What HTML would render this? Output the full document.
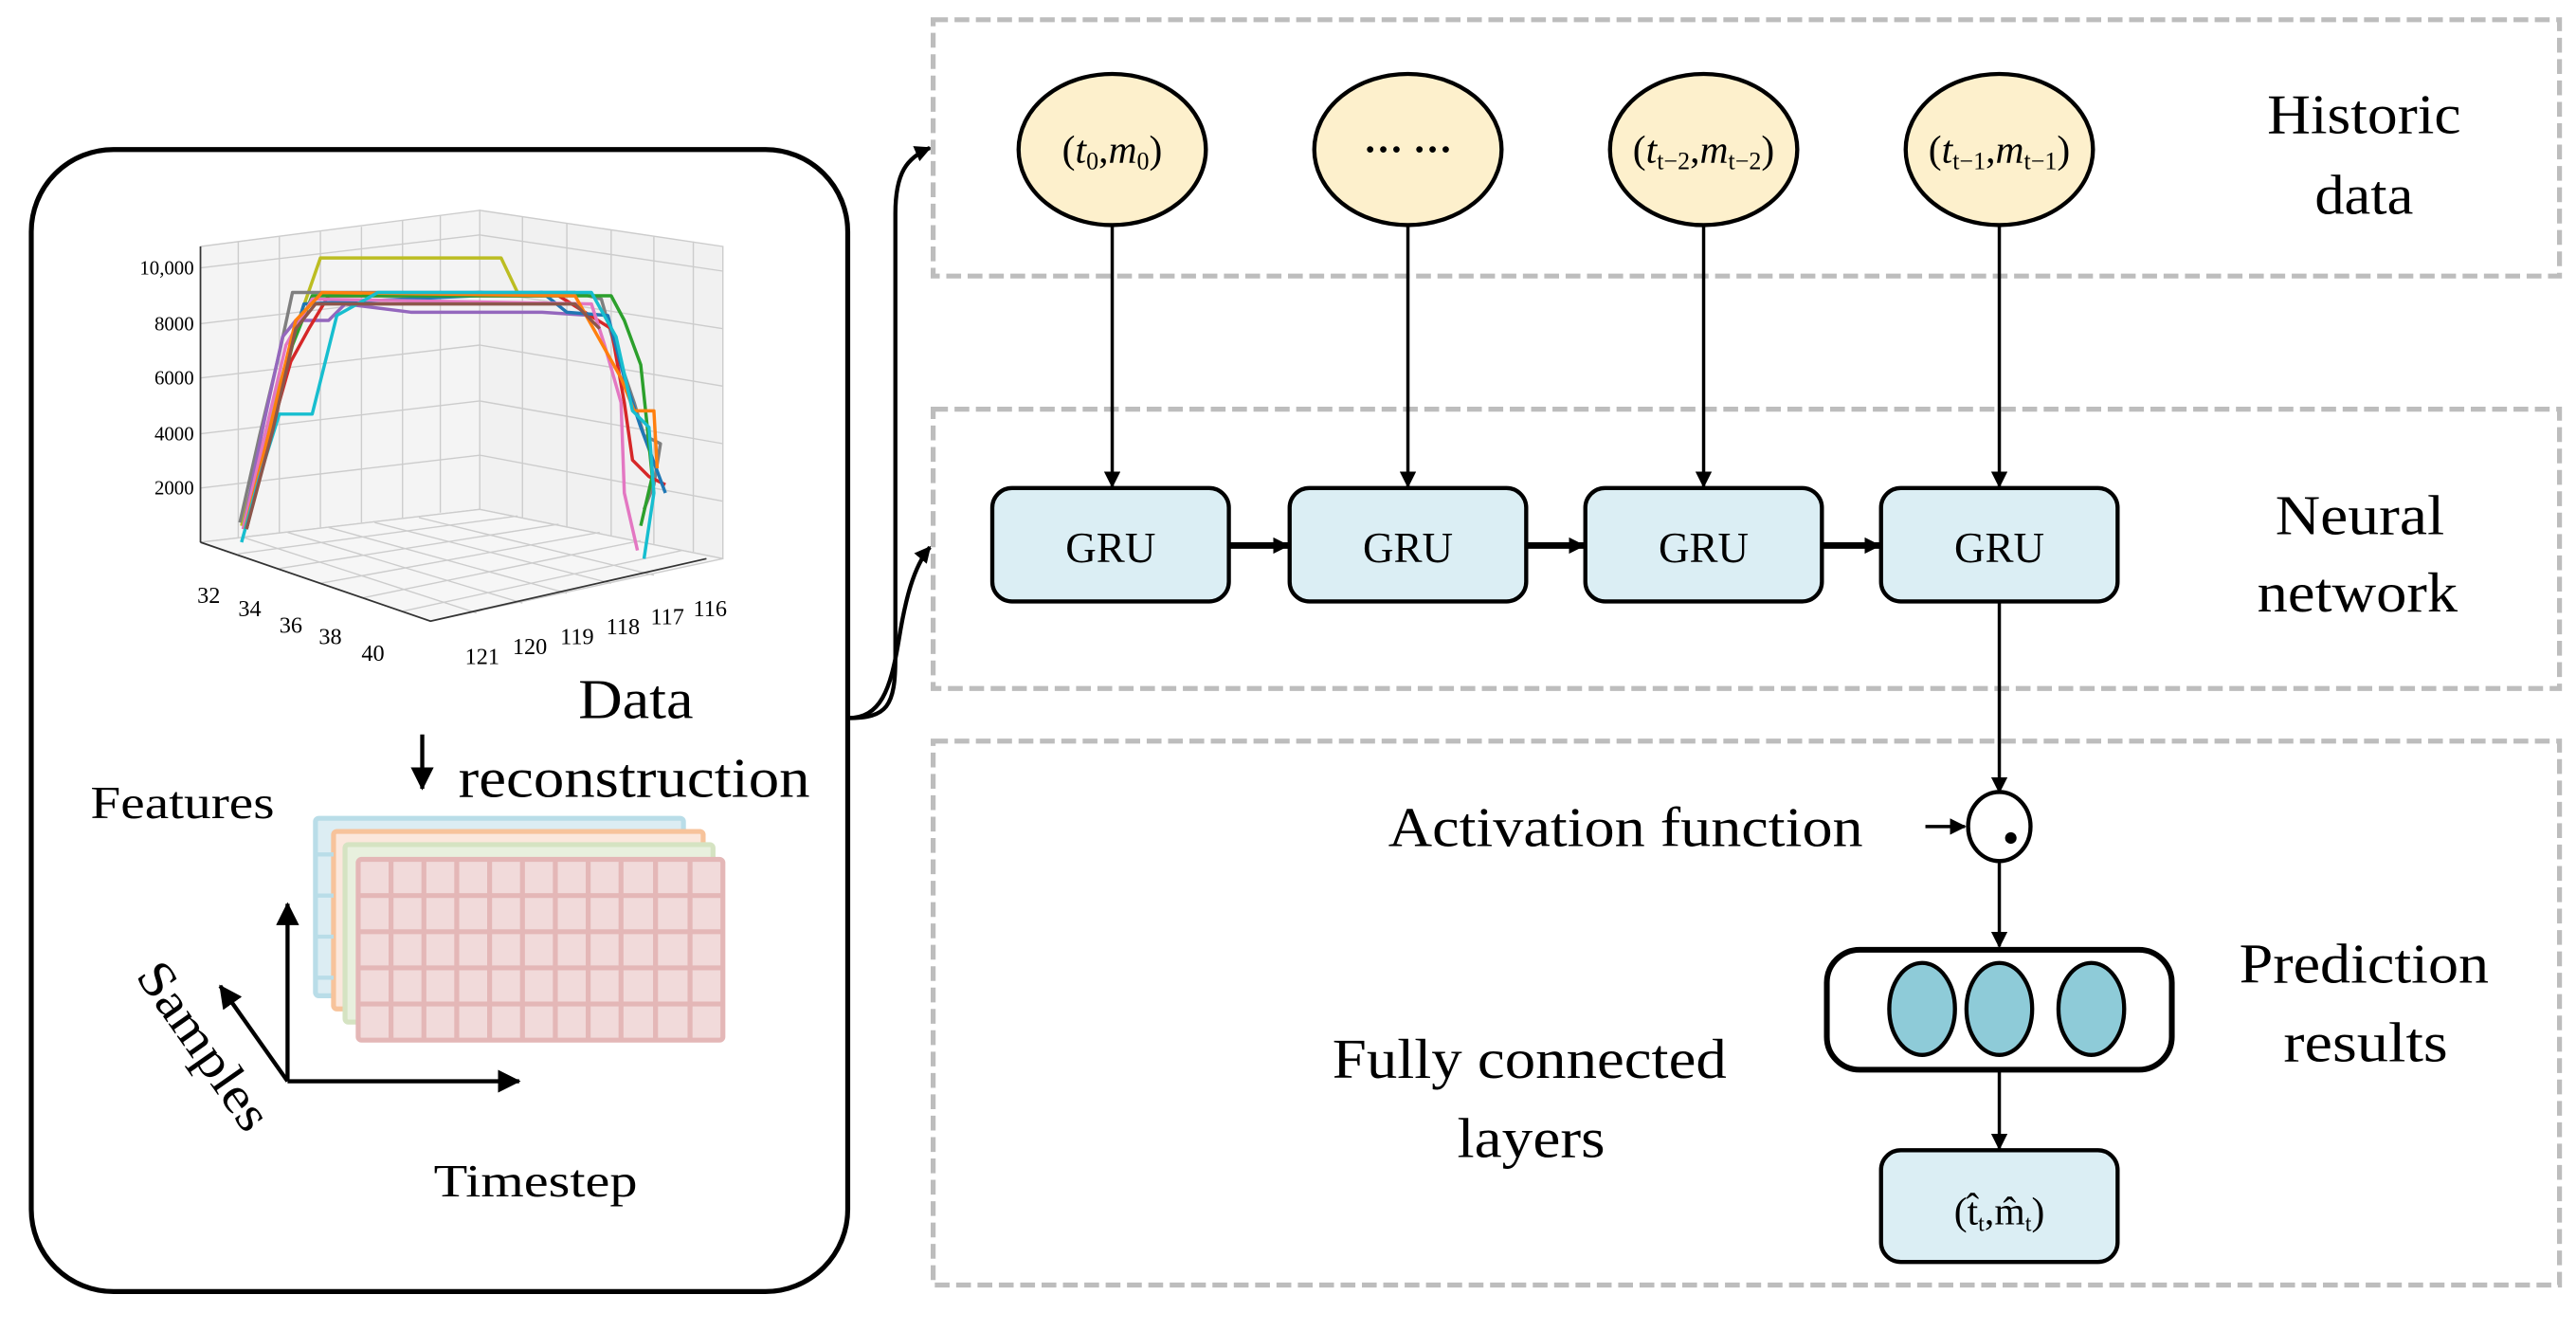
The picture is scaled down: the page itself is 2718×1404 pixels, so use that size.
<!DOCTYPE html>
<html><head><meta charset="utf-8"><style>
html,body{margin:0;padding:0;background:#fff;}
svg{display:block;}
text{font-family:"Liberation Serif",serif;fill:#000;}
</style></head><body>
<svg width="2718" height="1404" viewBox="0 0 1568 810" xmlns="http://www.w3.org/2000/svg">
<defs>
<marker id="ah" markerWidth="10" markerHeight="10" refX="9" refY="5" orient="auto" markerUnits="userSpaceOnUse"><path d="M0,0 L10,5 L0,10 z" fill="#000"/></marker>
<marker id="ah2" markerWidth="14" markerHeight="14" refX="13" refY="7" orient="auto" markerUnits="userSpaceOnUse"><path d="M0,0 L14,7 L0,14 z" fill="#000"/></marker>
</defs>

<rect x="19" y="91" width="497" height="695" rx="50" fill="none" stroke="#000" stroke-width="3"/>

<g stroke="#ccc" stroke-width="0.8" fill="none">
<polygon points="122,150 292,128 292,310 122,330" fill="#f4f4f4"/>
<polygon points="292,128 440,150 440,340 292,310" fill="#f1f1f1"/>
<polygon points="122,330 292,310 440,340 262,378" fill="#f6f6f6"/>
<line x1="145" y1="147" x2="145" y2="327"/><line x1="170" y1="144" x2="170" y2="324"/><line x1="195" y1="141" x2="195" y2="321"/><line x1="220" y1="138" x2="220" y2="318"/><line x1="245" y1="134" x2="245" y2="315"/><line x1="268" y1="131" x2="268" y2="312"/>
<line x1="318" y1="132" x2="318" y2="315"/><line x1="345" y1="136" x2="345" y2="321"/><line x1="372" y1="140" x2="372" y2="326"/><line x1="398" y1="144" x2="398" y2="331"/><line x1="422" y1="147" x2="422" y2="336"/>
<line x1="122" y1="163" x2="292" y2="143"/><line x1="122" y1="197" x2="292" y2="177"/><line x1="122" y1="230" x2="292" y2="210"/><line x1="122" y1="264" x2="292" y2="244"/><line x1="122" y1="297" x2="292" y2="277"/>
<line x1="292" y1="143" x2="440" y2="165"/><line x1="292" y1="177" x2="440" y2="200"/><line x1="292" y1="210" x2="440" y2="235"/><line x1="292" y1="244" x2="440" y2="270"/><line x1="292" y1="277" x2="440" y2="305"/>
<line x1="145" y1="337" x2="315" y2="314"/><line x1="170" y1="346" x2="340" y2="319"/><line x1="195" y1="355" x2="365" y2="324"/><line x1="220" y1="364" x2="390" y2="329"/><line x1="245" y1="372" x2="415" y2="335"/>
<line x1="148" y1="327" x2="290" y2="373"/><line x1="175" y1="324" x2="318" y2="367"/><line x1="200" y1="321" x2="345" y2="361"/><line x1="228" y1="318" x2="372" y2="355"/><line x1="255" y1="315" x2="398" y2="350"/>
</g>
<g stroke="#333" stroke-width="1" fill="none">
<line x1="122" y1="150" x2="122" y2="330"/>
<polyline points="122,330 262,378 430,340"/>
</g>
<g font-size="12" text-anchor="end" fill="#333">
<text x="118" y="167">10,000</text><text x="118" y="201">8000</text><text x="118" y="234">6000</text><text x="118" y="268">4000</text><text x="118" y="301">2000</text>
</g>
<g font-size="14" fill="#333">
<text x="120" y="367">32</text><text x="145" y="375">34</text><text x="170" y="385">36</text><text x="194" y="392">38</text><text x="220" y="402">40</text>
<text x="283" y="404">121</text><text x="312" y="398">120</text><text x="341" y="392">119</text><text x="369" y="386">118</text><text x="396" y="380">117</text><text x="422" y="375">116</text>
</g>
<g fill="none" stroke-width="2" stroke-linejoin="round">
<polyline stroke="#bcbd22" points="147,320 160,270 180,200 195,157 305,157 315,178 330,180"/>
<polyline stroke="#7f7f7f" points="146,318 158,265 170,215 178,178 350,178 366,182 374,210 386,245 392,265 402,270 398,295 392,310"/>
<polyline stroke="#9467bd" points="148,322 160,260 172,205 180,195 200,195 210,185 250,190 330,190 360,192"/>
<polyline stroke="#d62728" points="150,322 165,262 177,220 188,200 200,180 340,180 372,200 380,245 385,280 395,290 405,295"/>
<polyline stroke="#1f77b4" points="149,322 162,270 176,215 185,185 330,178 345,190 370,192 380,230 390,260 405,300"/>
<polyline stroke="#2ca02c" points="150,322 165,262 178,210 190,180 372,180 380,195 390,222 394,260 397,290 390,320"/>
<polyline stroke="#e377c2" points="148,322 160,270 174,210 190,182 360,185 368,210 378,245 380,300 388,335"/>
<polyline stroke="#ff7f0e" points="149,322 164,262 180,195 196,178 350,180 378,230 386,250 398,250 400,285"/>
<polyline stroke="#17becf" points="147,330 158,290 170,252 190,252 205,192 230,178 360,178 375,205 385,250 395,260 398,300 392,340"/>
<polyline stroke="#8c564b" points="150,322 166,262 180,200 192,185 350,185 365,200"/>
</g>

<text x="352" y="437" font-size="34" textLength="70" lengthAdjust="spacingAndGlyphs">Data</text>
<text x="279" y="485" font-size="34" textLength="214" lengthAdjust="spacingAndGlyphs">reconstruction</text>
<line x1="257" y1="447" x2="257" y2="480" stroke="#000" stroke-width="2.5" marker-end="url(#ah2)"/>
<text x="55" y="498" font-size="28" textLength="112" lengthAdjust="spacingAndGlyphs">Features</text>

<g stroke-width="3">
<rect x="192" y="498" width="224" height="108" rx="2" fill="#dcedf3" stroke="#b9dde8"/>
<rect x="203" y="506" width="225" height="108" rx="2" fill="#fbe7dc" stroke="#f7c39b"/>
<rect x="210" y="514" width="224" height="108" rx="2" fill="#e8f0de" stroke="#d5e3c2"/>
<rect x="218" y="523" width="222" height="110" rx="2" fill="#f1dada" stroke="#e4b7b7"/>
</g>
<g stroke="#e4b7b7" stroke-width="3">
<line x1="238" y1="523" x2="238" y2="633"/><line x1="258" y1="523" x2="258" y2="633"/><line x1="278" y1="523" x2="278" y2="633"/><line x1="298" y1="523" x2="298" y2="633"/><line x1="318" y1="523" x2="318" y2="633"/><line x1="338" y1="523" x2="338" y2="633"/><line x1="358" y1="523" x2="358" y2="633"/><line x1="378" y1="523" x2="378" y2="633"/><line x1="399" y1="523" x2="399" y2="633"/><line x1="420" y1="523" x2="420" y2="633"/>
<line x1="218" y1="545" x2="440" y2="545"/><line x1="218" y1="567" x2="440" y2="567"/><line x1="218" y1="589" x2="440" y2="589"/><line x1="218" y1="611" x2="440" y2="611"/>
</g>
<g stroke="#b9dde8" stroke-width="2.5"><line x1="192" y1="520" x2="203" y2="520"/><line x1="192" y1="545" x2="203" y2="545"/><line x1="192" y1="570" x2="203" y2="570"/><line x1="192" y1="595" x2="203" y2="595"/></g>

<g stroke="#000" stroke-width="2.5" fill="none">
<line x1="175" y1="658" x2="175" y2="550" marker-end="url(#ah2)"/>
<line x1="175" y1="658" x2="316" y2="658" marker-end="url(#ah2)"/>
<line x1="175" y1="658" x2="134" y2="600" marker-end="url(#ah2)"/>
</g>
<text x="0" y="0" font-size="31" textLength="118" lengthAdjust="spacingAndGlyphs" transform="translate(82,594) rotate(55)">Samples</text>
<text x="264" y="728" font-size="28" textLength="124" lengthAdjust="spacingAndGlyphs">Timestep</text>

<g stroke="#000" stroke-width="2.5" fill="none">
<path d="M516,437 C540,437 545,430 545,400 L545,130 C545,105 552,96 566,90" marker-end="url(#ah)"/>
<path d="M516,437 C536,437 542,420 547,390 C551,365 556,345 566,333" marker-end="url(#ah)"/>
</g>

<g fill="none" stroke="#bdbdbd" stroke-width="3" stroke-dasharray="9,4">
<rect x="568" y="12" width="990" height="156"/>
<rect x="568" y="249" width="990" height="170"/>
<rect x="568" y="451" width="990" height="331"/>
</g>

<g fill="#fdf0cc" stroke="#000" stroke-width="2.5">
<ellipse cx="677" cy="91" rx="57" ry="46"/>
<ellipse cx="857" cy="91" rx="57" ry="46"/>
<ellipse cx="1037" cy="91" rx="57" ry="46"/>
<ellipse cx="1217" cy="91" rx="57" ry="46"/>
</g>
<g font-size="24" text-anchor="middle">
<text x="677" y="99">(<tspan font-style="italic">t</tspan><tspan font-size="15" dy="4">0</tspan><tspan dy="-4">,</tspan><tspan font-style="italic">m</tspan><tspan font-size="15" dy="4">0</tspan><tspan dy="-4">)</tspan></text>
<text x="857" y="99" font-weight="bold">··· ···</text>
<text x="1037" y="99">(<tspan font-style="italic">t</tspan><tspan font-size="15" dy="4">t−2</tspan><tspan dy="-4">,</tspan><tspan font-style="italic">m</tspan><tspan font-size="15" dy="4">t−2</tspan><tspan dy="-4">)</tspan></text>
<text x="1217" y="99">(<tspan font-style="italic">t</tspan><tspan font-size="15" dy="4">t−1</tspan><tspan dy="-4">,</tspan><tspan font-style="italic">m</tspan><tspan font-size="15" dy="4">t−1</tspan><tspan dy="-4">)</tspan></text>
</g>
<g stroke="#000" stroke-width="2">
<line x1="677" y1="137" x2="677" y2="296" marker-end="url(#ah)"/>
<line x1="857" y1="137" x2="857" y2="296" marker-end="url(#ah)"/>
<line x1="1037" y1="137" x2="1037" y2="296" marker-end="url(#ah)"/>
<line x1="1217" y1="137" x2="1217" y2="296" marker-end="url(#ah)"/>
</g>

<g fill="#dbeef4" stroke="#000" stroke-width="2.5">
<rect x="604" y="297" width="144" height="69" rx="12"/>
<rect x="785" y="297" width="144" height="69" rx="12"/>
<rect x="965" y="297" width="144" height="69" rx="12"/>
<rect x="1145" y="297" width="144" height="69" rx="12"/>
</g>
<g font-size="26" text-anchor="middle">
<text x="676" y="342">GRU</text><text x="857" y="342">GRU</text><text x="1037" y="342">GRU</text><text x="1217" y="342">GRU</text>
</g>
<g stroke="#000" stroke-width="4">
<line x1="748" y1="332" x2="784" y2="332" marker-end="url(#ah)"/>
<line x1="929" y1="332" x2="964" y2="332" marker-end="url(#ah)"/>
<line x1="1109" y1="332" x2="1144" y2="332" marker-end="url(#ah)"/>
</g>

<g font-size="34">
<text x="1380" y="81" textLength="118" lengthAdjust="spacingAndGlyphs">Historic</text>
<text x="1409" y="130" textLength="60" lengthAdjust="spacingAndGlyphs">data</text>
<text x="1385" y="325" textLength="103" lengthAdjust="spacingAndGlyphs">Neural</text>
<text x="1374" y="372" textLength="122" lengthAdjust="spacingAndGlyphs">network</text>
<text x="1363" y="598" textLength="152" lengthAdjust="spacingAndGlyphs">Prediction</text>
<text x="1390" y="646" textLength="100" lengthAdjust="spacingAndGlyphs">results</text>
<text x="811" y="656" textLength="240" lengthAdjust="spacingAndGlyphs">Fully connected</text>
<text x="887" y="704" textLength="90" lengthAdjust="spacingAndGlyphs">layers</text>
<text x="845" y="515" textLength="289" lengthAdjust="spacingAndGlyphs">Activation function</text>
</g>

<g stroke="#000" stroke-width="2" fill="none">
<line x1="1217" y1="366" x2="1217" y2="482" marker-end="url(#ah)"/>
<line x1="1172" y1="503" x2="1196" y2="503" marker-end="url(#ah)"/>
<line x1="1217" y1="524" x2="1217" y2="576" marker-end="url(#ah)"/>
<line x1="1217" y1="652" x2="1217" y2="699" marker-end="url(#ah)"/>
</g>
<ellipse cx="1217" cy="503" rx="19" ry="21" fill="#fff" stroke="#000" stroke-width="2.5"/>
<circle cx="1224" cy="510" r="3.5" fill="#000"/>

<rect x="1112" y="578" width="210" height="73" rx="20" fill="#fff" stroke="#000" stroke-width="3.5"/>
<g fill="#8ecbd8" stroke="#000" stroke-width="2.5">
<ellipse cx="1170" cy="614" rx="20" ry="28"/>
<ellipse cx="1217" cy="614" rx="20" ry="28"/>
<ellipse cx="1273" cy="614" rx="20" ry="28"/>
</g>

<rect x="1145" y="700" width="144" height="68" rx="12" fill="#dbeef4" stroke="#000" stroke-width="2.5"/>
<text x="1217" y="745" font-size="24" text-anchor="middle">(t̂<tspan font-size="14" dy="4">t</tspan><tspan dy="-4">,m̂</tspan><tspan font-size="14" dy="4">t</tspan><tspan dy="-4">)</tspan></text>
</svg>
</body></html>
